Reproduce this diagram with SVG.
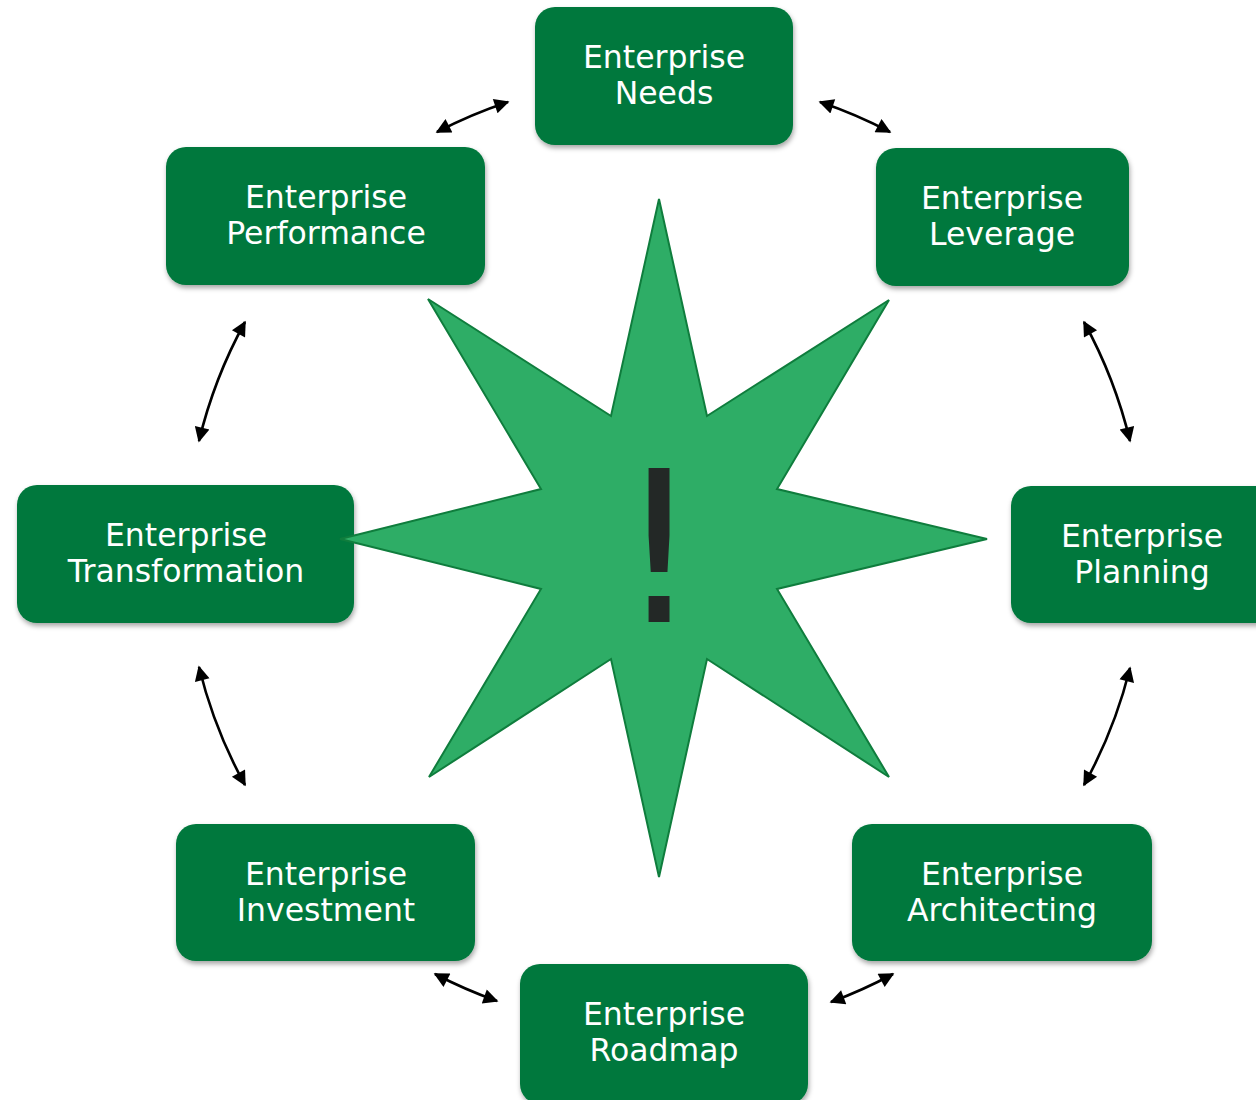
<svg xmlns="http://www.w3.org/2000/svg" width="1256" height="1100" viewBox="0 0 1256 1100">
<style>
.box{fill:#00783C;filter:url(#sh)}
.lbl{font-family:"DejaVu Sans","Verdana",sans-serif;font-size:31.5px;fill:#ffffff;text-anchor:middle}
.arr{fill:none;stroke:#000;stroke-width:2.6;marker-start:url(#ah);marker-end:url(#ah)}
</style>
<defs>
<filter id="sh" x="-10%" y="-10%" width="125%" height="130%">
<feDropShadow dx="1" dy="3" stdDeviation="2.5" flood-color="#000" flood-opacity="0.35"/>
</filter>
<marker id="ah" viewBox="0 0 10 10" refX="9" refY="5" markerWidth="18" markerHeight="15" markerUnits="userSpaceOnUse" orient="auto-start-reverse">
<path d="M0,0 L10,5 L0,10 z" fill="#000"/>
</marker>
</defs>
<rect width="1256" height="1100" fill="#ffffff"/>
<g id="connectors">
<path class="arr" d="M437,132 A479,479 0 0 1 508,102"/>
<path class="arr" d="M820,102 A479,479 0 0 1 890,132"/>
<path class="arr" d="M1084,322 A479,479 0 0 1 1130,441"/>
<path class="arr" d="M1130,668 A479,479 0 0 1 1084,785"/>
<path class="arr" d="M893,974 A479,479 0 0 1 831,1002"/>
<path class="arr" d="M497,1001 A479,479 0 0 1 435,974"/>
<path class="arr" d="M245,785 A479,479 0 0 1 199,667"/>
<path class="arr" d="M199,441 A479,479 0 0 1 245,322"/>
</g>
<g id="needs"><rect class="box" x="535" y="7" width="258" height="138" rx="20"/><text class="lbl" x="664" y="68">Enterprise</text><text class="lbl" x="664" y="104">Needs</text></g>
<g id="leverage"><rect class="box" x="876" y="148" width="253" height="138" rx="20"/><text class="lbl" x="1002" y="209">Enterprise</text><text class="lbl" x="1002" y="245">Leverage</text></g>
<g id="performance"><rect class="box" x="166" y="147" width="319" height="138" rx="20"/><text class="lbl" x="326" y="208">Enterprise</text><text class="lbl" x="326" y="244">Performance</text></g>
<g id="transformation"><rect class="box" x="17" y="485" width="337" height="138" rx="20"/><text class="lbl" x="186" y="546">Enterprise</text><text class="lbl" x="186" y="582">Transformation</text></g>
<g id="planning"><rect class="box" x="1011" y="486" width="270" height="137" rx="20"/><text class="lbl" x="1142" y="547">Enterprise</text><text class="lbl" x="1142" y="583">Planning</text></g>
<g id="investment"><rect class="box" x="176" y="824" width="299" height="137" rx="20"/><text class="lbl" x="326" y="885">Enterprise</text><text class="lbl" x="326" y="921">Investment</text></g>
<g id="architecting"><rect class="box" x="852" y="824" width="300" height="137" rx="20"/><text class="lbl" x="1002" y="885">Enterprise</text><text class="lbl" x="1002" y="921">Architecting</text></g>
<g id="roadmap"><rect class="box" x="520" y="964" width="288" height="140" rx="20"/><text class="lbl" x="664" y="1025">Enterprise</text><text class="lbl" x="664" y="1061">Roadmap</text></g>
<g id="star">
<polygon points="659,199 707,416 889,300 777,489 987,539 777,589 889,777 707,659 659,877 611,659 429,777 541,589 340,539 541,489 428,299 611,416" fill="#2EAD66" stroke="#0F7D3D" stroke-width="2" stroke-linejoin="miter"/>
<text x="659" y="622" font-family="DejaVu Sans, sans-serif" font-size="211" fill="#232826" text-anchor="middle">!</text>
</g>
</svg>
